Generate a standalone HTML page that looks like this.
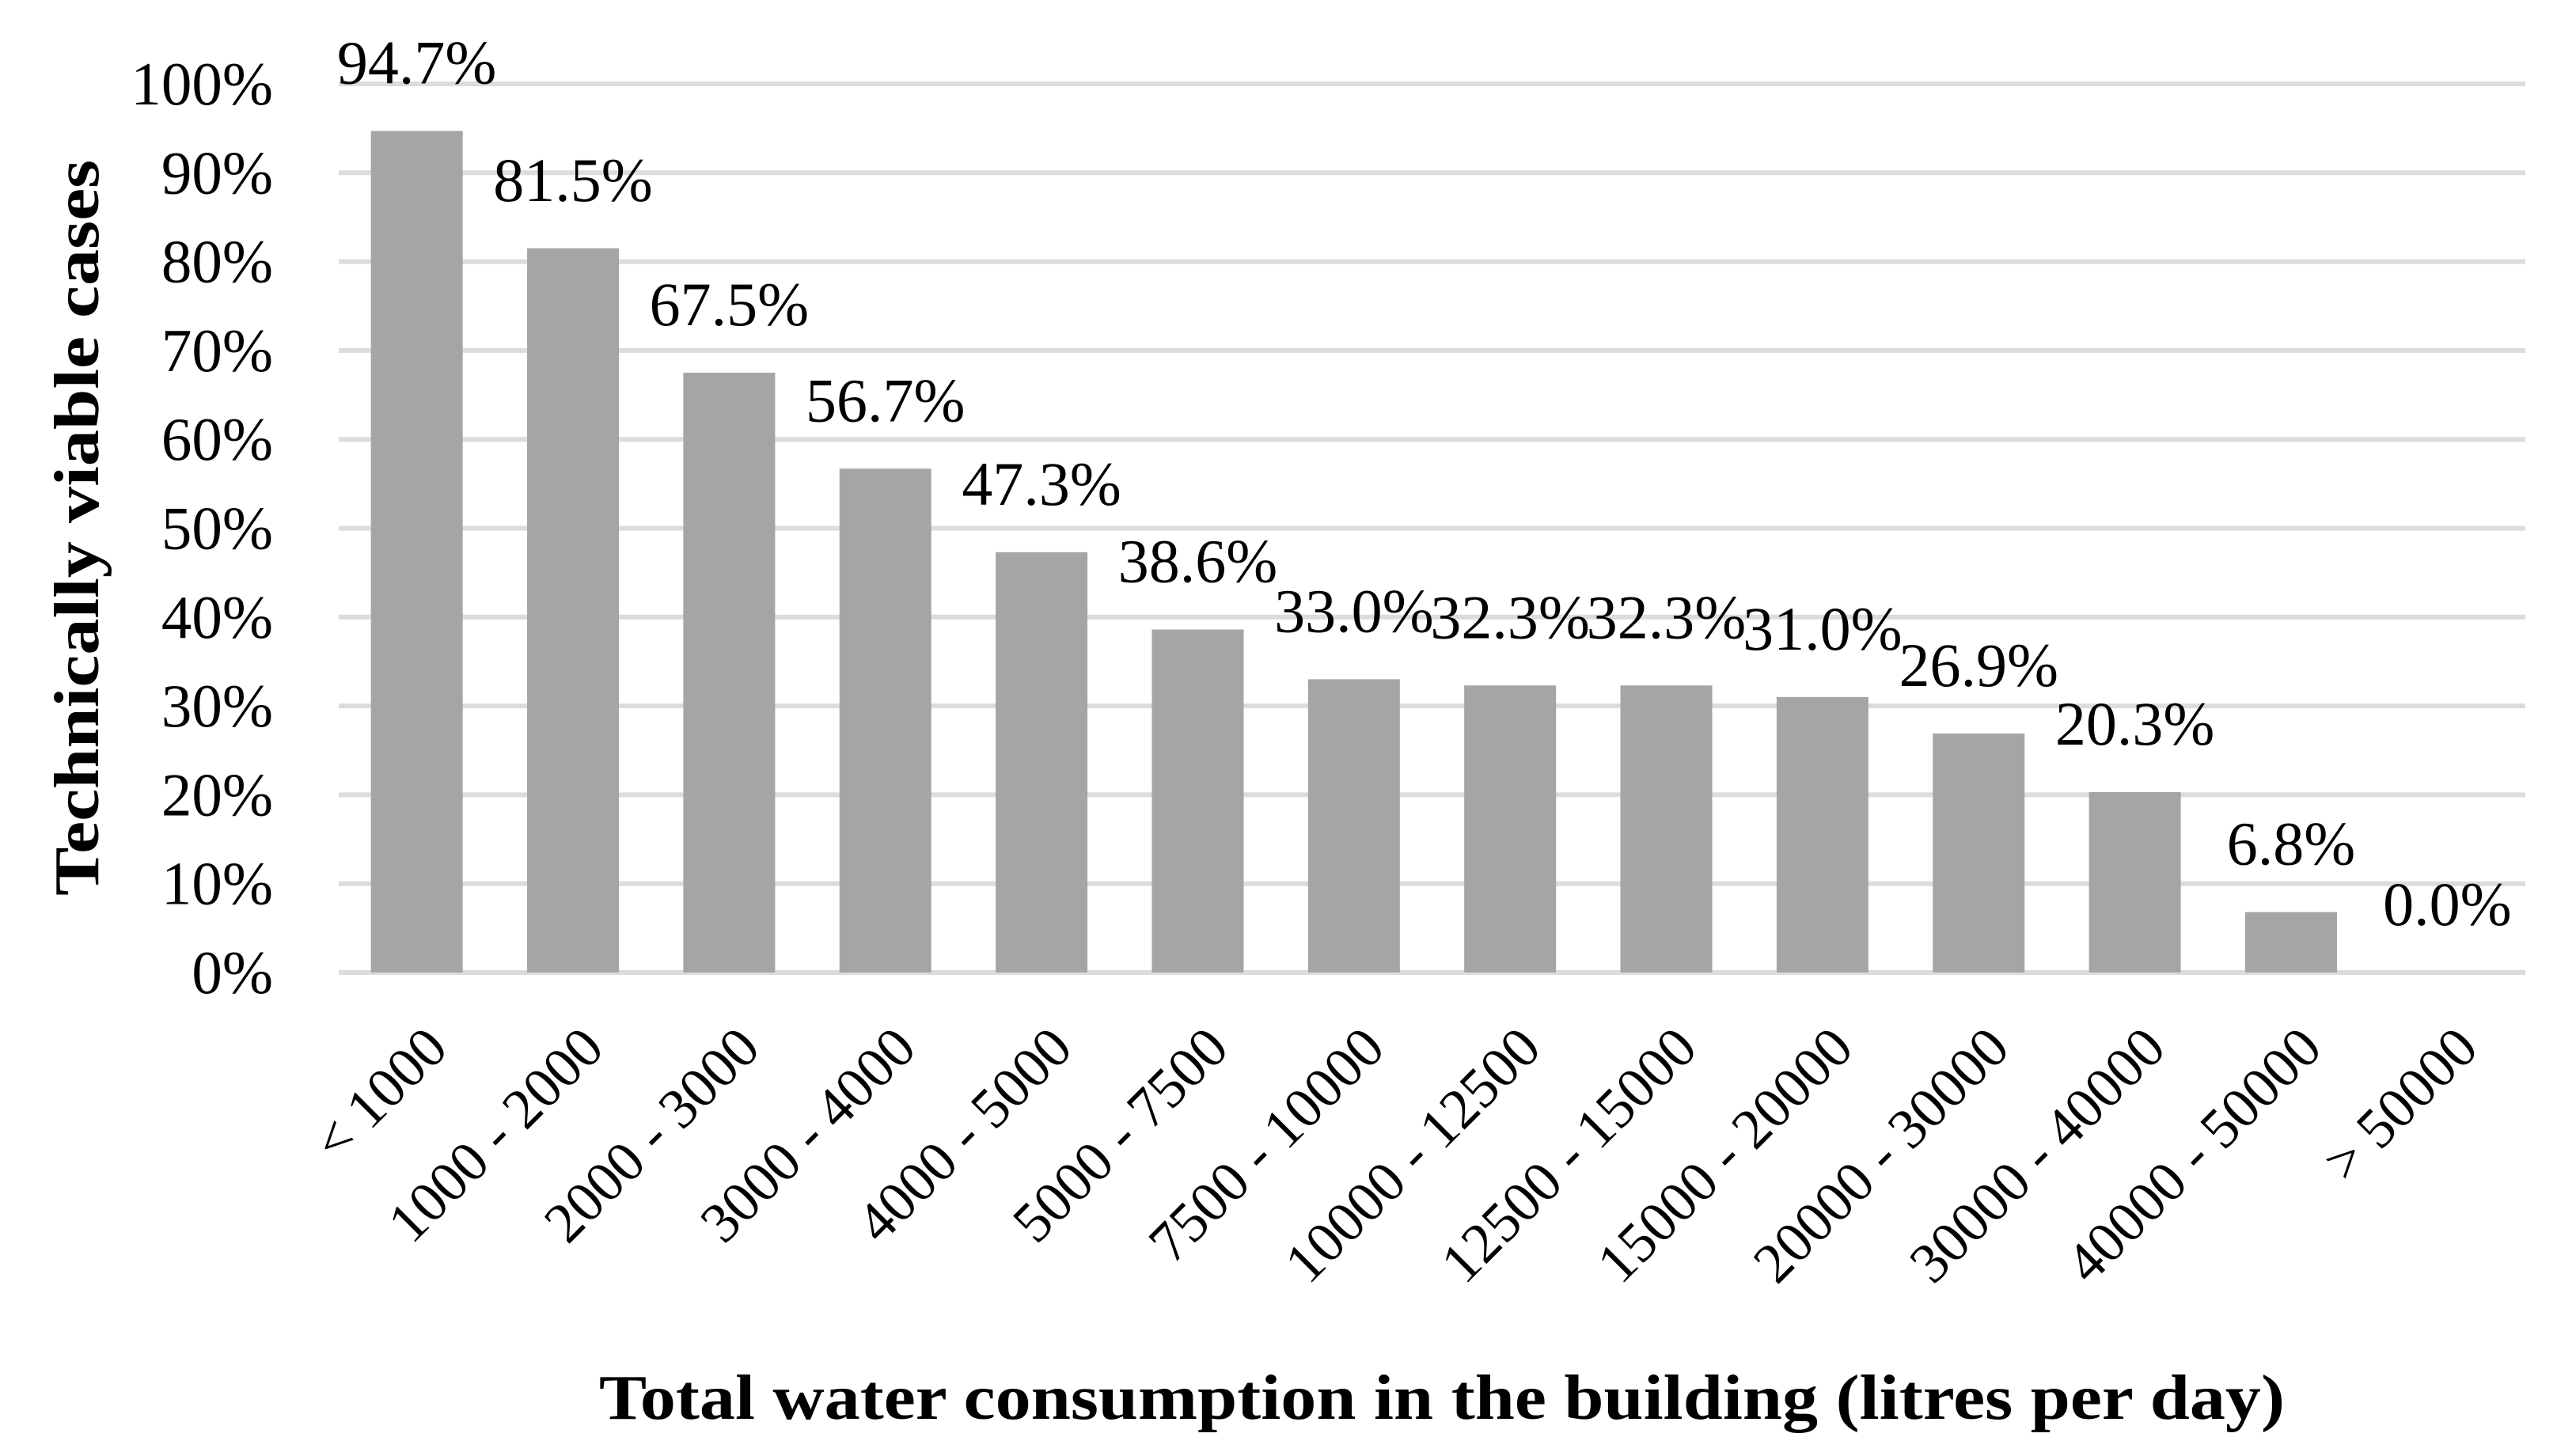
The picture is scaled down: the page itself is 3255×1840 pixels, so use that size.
<!DOCTYPE html>
<html><head><meta charset="utf-8">
<style>html,body{margin:0;padding:0;background:#fff}svg{display:block}</style>
</head><body>
<svg id="chart" width="3255" height="1840" viewBox="0 0 3255 1840" xmlns="http://www.w3.org/2000/svg" font-family="'Liberation Serif', serif">
<g id="grid"></g>
<g id="yticks"></g>
<g id="bars"></g>
<g id="vlabels"></g>
<g id="xticks"></g>
<text x="0" y="0" transform="translate(124,667) rotate(-90)" text-anchor="middle" font-weight="bold" font-size="80" textLength="930" lengthAdjust="spacingAndGlyphs">Technically viable cases</text>
<text x="1822" y="1793" text-anchor="middle" font-weight="bold" font-size="80" textLength="2130" lengthAdjust="spacingAndGlyphs">Total water consumption in the building (litres per day)</text>
</svg>
<script>
const categories = ["< 1000","1000 - 2000","2000 - 3000","3000 - 4000","4000 - 5000","5000 - 7500","7500 - 10000","10000 - 12500","12500 - 15000","15000 - 20000","20000 - 30000","30000 - 40000","40000 - 50000","> 50000"];
const values = [94.7,81.5,67.5,56.7,47.3,38.6,33.0,32.3,32.3,31.0,26.9,20.3,6.8,0.0];
const valueLabels = ["94.7%","81.5%","67.5%","56.7%","47.3%","38.6%","33.0%","32.3%","32.3%","31.0%","26.9%","20.3%","6.8%","0.0%"];
const yTicks = [0,10,20,30,40,50,60,70,80,90,100];
const yTickLabels = ["0%","10%","20%","30%","40%","50%","60%","70%","80%","90%","100%"];

const NS = "http://www.w3.org/2000/svg";
const plotL = 428, plotR = 3191, y0 = 1229, y100 = 106;
const band = (plotR - plotL) / categories.length;
const barW = 116;
function yScale(v){ return y0 - (v/100)*(y0 - y100); }
function xCenter(i){ return plotL + (i + 0.5) * band; }
function mk(tag, attrs, parent){
  const e = document.createElementNS(NS, tag);
  for (const k in attrs) e.setAttribute(k, attrs[k]);
  parent.appendChild(e); return e;
}
const grid = document.getElementById('grid'), yt = document.getElementById('yticks');
yTicks.forEach((t, i) => {
  const l = mk('line', {x1: plotL, x2: plotR, y1: yScale(t), y2: yScale(t), stroke: '#dcdcdc', 'stroke-width': 6}, grid);
  
  
  const tx = mk('text', {x: 345, y: yScale(t) + 26, 'text-anchor': 'end', 'font-size': 77}, yt);
  tx.textContent = yTickLabels[i];
  
  
});
const bars = document.getElementById('bars'), vl = document.getElementById('vlabels'), xt = document.getElementById('xticks');
categories.forEach((c, i) => {
  const cx = xCenter(i), top = yScale(values[i]);
  const r = mk('rect', {x: cx - barW/2, y: top, width: barW, height: y0 - top, fill: '#a5a5a5'}, bars);
  
  
  const t = mk('text', {x: cx, y: top - 60, 'text-anchor': 'middle', 'font-size': 78}, vl);
  t.textContent = valueLabels[i];
  
  
  const ax = cx + 42, ay = 1328;
  const x = mk('text', {x: 0, y: 0, 'text-anchor': 'end', 'font-size': 72, transform: 'translate(' + ax + ',' + ay + ') rotate(-45)'}, xt);
  x.textContent = c;
  
  
});
</script>
</body></html>
